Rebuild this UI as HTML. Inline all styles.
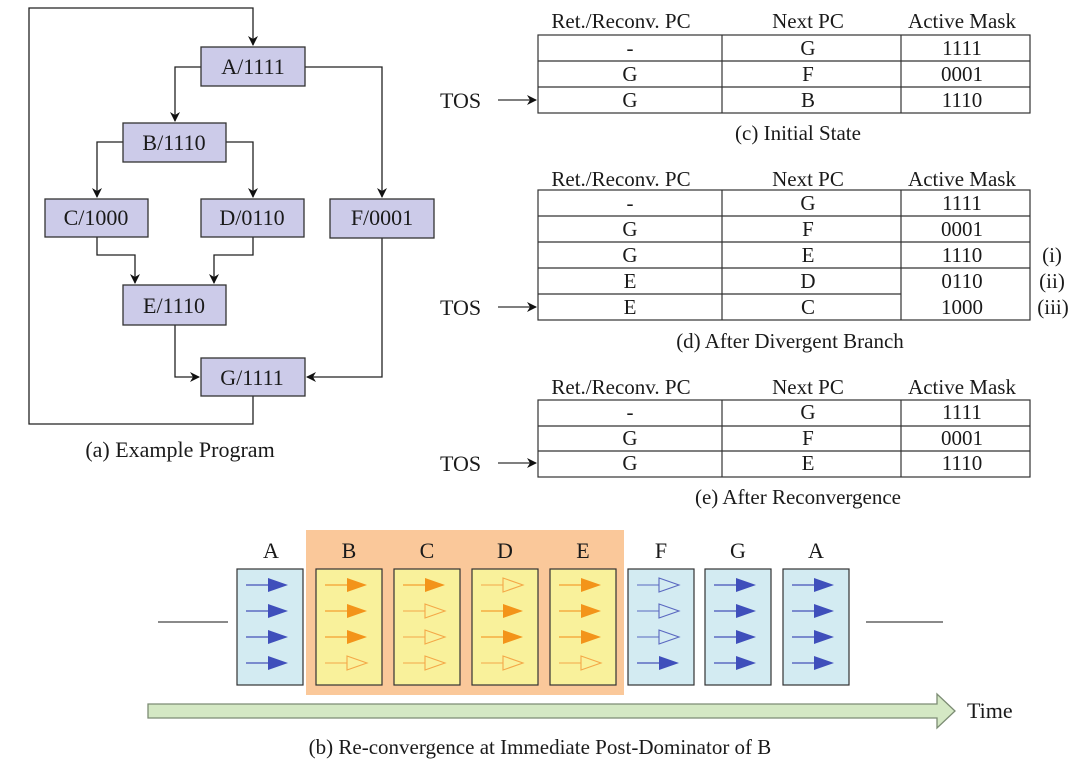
<!DOCTYPE html>
<html><head><meta charset="utf-8"><style>
html,body{margin:0;padding:0;background:#fff;}
svg{display:block;}
text{font-family:"Liberation Serif",serif;fill:#1a1a1a;}
</style></head><body>
<svg width="1080" height="766" viewBox="0 0 1080 766" xmlns="http://www.w3.org/2000/svg">
<defs>
<marker id="ah" markerWidth="10" markerHeight="10" refX="9" refY="5" orient="auto" markerUnits="userSpaceOnUse"><path d="M0,0 L10,5 L0,10 L3,5 Z" fill="#111"/></marker>
<g id="bf"><line x1="16" y1="0" x2="40" y2="0" stroke="#4452b8" stroke-width="1.3"/><polygon points="38,-7 58,0 38,7" fill="#3f4fbb"/></g>
<g id="bh"><line x1="16" y1="0" x2="38" y2="0" stroke="#5a68c0" stroke-width="1.1"/><polygon points="38,-7 58,0 38,7" fill="none" stroke="#5a68c0" stroke-width="1.1"/></g>
<g id="of"><line x1="16" y1="0" x2="40" y2="0" stroke="#f4a030" stroke-width="1.3"/><polygon points="38,-7 58,0 38,7" fill="#f3941a"/></g>
<g id="oh"><line x1="16" y1="0" x2="38" y2="0" stroke="#f4a848" stroke-width="1.1"/><polygon points="38,-7 58,0 38,7" fill="none" stroke="#f4a848" stroke-width="1.1"/></g>
</defs>

<!-- (a) flow graph -->
<g stroke="#222" stroke-width="1.3" fill="none">
<polyline points="253,396 253,424 29,424 29,8 253,8 253,45" marker-end="url(#ah)"/>
<polyline points="201,67 175,67 175,121" marker-end="url(#ah)"/>
<polyline points="305,67 382,67 382,197" marker-end="url(#ah)"/>
<polyline points="123,142 97,142 97,197" marker-end="url(#ah)"/>
<polyline points="226,142 253,142 253,197" marker-end="url(#ah)"/>
<polyline points="97,237 97,255 135,255 135,283" marker-end="url(#ah)"/>
<polyline points="253,237 253,255 214,255 214,283" marker-end="url(#ah)"/>
<polyline points="175,325 175,377 199,377" marker-end="url(#ah)"/>
<polyline points="382,238 382,377 307,377" marker-end="url(#ah)"/>
</g>
<g fill="#cccbe9" stroke="#333" stroke-width="1.3">
<rect x="201" y="47" width="104" height="39"/>
<rect x="123" y="123" width="103" height="39"/>
<rect x="45" y="199" width="103" height="38"/>
<rect x="201" y="199" width="103" height="38"/>
<rect x="330" y="199" width="104" height="39"/>
<rect x="123" y="285" width="103" height="40"/>
<rect x="201" y="358" width="104" height="38"/>
</g>
<g font-size="22" text-anchor="middle">
<text x="253" y="74">A/1111</text>
<text x="174" y="150">B/1110</text>
<text x="96" y="225">C/1000</text>
<text x="252" y="225">D/0110</text>
<text x="382" y="225">F/0001</text>
<text x="174" y="313">E/1110</text>
<text x="252" y="385">G/1111</text>
<text x="180" y="457">(a)  Example Program</text>
</g>

<!-- tables -->
<g font-size="21" text-anchor="middle">
<text x="621" y="28">Ret./Reconv. PC</text><text x="808" y="28">Next PC</text><text x="962" y="28">Active Mask</text>
<text x="621" y="186">Ret./Reconv. PC</text><text x="808" y="186">Next PC</text><text x="962" y="186">Active Mask</text>
<text x="621" y="394">Ret./Reconv. PC</text><text x="808" y="394">Next PC</text><text x="962" y="394">Active Mask</text>
</g>
<g stroke="#333" stroke-width="1.2" fill="none">
<rect x="538" y="35" width="492" height="78"/>
<line x1="538" y1="61" x2="1030" y2="61"/><line x1="538" y1="87" x2="1030" y2="87"/>
<line x1="722" y1="35" x2="722" y2="113"/><line x1="901" y1="35" x2="901" y2="113"/>
<rect x="538" y="190" width="492" height="130"/>
<line x1="538" y1="216" x2="1030" y2="216"/><line x1="538" y1="242" x2="1030" y2="242"/>
<line x1="538" y1="268" x2="1030" y2="268"/><line x1="538" y1="294" x2="901" y2="294"/>
<line x1="722" y1="190" x2="722" y2="320"/><line x1="901" y1="190" x2="901" y2="320"/>
<rect x="538" y="400" width="492" height="77"/>
<line x1="538" y1="426" x2="1030" y2="426"/><line x1="538" y1="451" x2="1030" y2="451"/>
<line x1="722" y1="400" x2="722" y2="477"/><line x1="901" y1="400" x2="901" y2="477"/>
<line x1="498" y1="100" x2="536" y2="100" marker-end="url(#ah)"/>
<line x1="498" y1="307" x2="536" y2="307" marker-end="url(#ah)"/>
<line x1="498" y1="463" x2="536" y2="463" marker-end="url(#ah)"/>
</g>
<g font-size="21" text-anchor="middle">
<text x="630" y="55">-</text><text x="808" y="55">G</text><text x="962" y="55">1111</text>
<text x="630" y="81">G</text><text x="808" y="81">F</text><text x="962" y="81">0001</text>
<text x="630" y="107">G</text><text x="808" y="107">B</text><text x="962" y="107">1110</text>
<text x="798" y="140">(c)  Initial State</text>
<text x="630" y="210">-</text><text x="808" y="210">G</text><text x="962" y="210">1111</text>
<text x="630" y="236">G</text><text x="808" y="236">F</text><text x="962" y="236">0001</text>
<text x="630" y="262">G</text><text x="808" y="262">E</text><text x="962" y="262">1110</text>
<text x="630" y="288">E</text><text x="808" y="288">D</text><text x="962" y="288">0110</text>
<text x="630" y="314">E</text><text x="808" y="314">C</text><text x="962" y="314">1000</text>
<text x="1052" y="262">(i)</text><text x="1052" y="288">(ii)</text><text x="1053" y="314">(iii)</text>
<text x="790" y="348">(d)  After Divergent Branch</text>
<text x="630" y="419">-</text><text x="808" y="419">G</text><text x="962" y="419">1111</text>
<text x="630" y="445">G</text><text x="808" y="445">F</text><text x="962" y="445">0001</text>
<text x="630" y="470">G</text><text x="808" y="470">E</text><text x="962" y="470">1110</text>
<text x="798" y="504">(e)  After Reconvergence</text>
</g>
<g font-size="22">
<text x="440" y="108">TOS</text><text x="440" y="315">TOS</text><text x="440" y="471">TOS</text>
</g>

<!-- (b) timeline -->
<rect x="306" y="530" width="318" height="165" fill="#fac89a"/>
<g font-size="22" text-anchor="middle">
<text x="271" y="558">A</text><text x="349" y="558">B</text><text x="427" y="558">C</text><text x="505" y="558">D</text>
<text x="583" y="558">E</text><text x="661" y="558">F</text><text x="738" y="558">G</text><text x="816" y="558">A</text>
</g>
<g stroke="#333" stroke-width="1.2">
<rect x="237" y="569" width="66" height="116" fill="#d3ebf2"/>
<rect x="316" y="569" width="66" height="116" fill="#f9f19b"/>
<rect x="394" y="569" width="66" height="116" fill="#f9f19b"/>
<rect x="472" y="569" width="66" height="116" fill="#f9f19b"/>
<rect x="550" y="569" width="66" height="116" fill="#f9f19b"/>
<rect x="628" y="569" width="66" height="116" fill="#d3ebf2"/>
<rect x="705" y="569" width="66" height="116" fill="#d3ebf2"/>
<rect x="783" y="569" width="66" height="116" fill="#d3ebf2"/>
<line x1="158" y1="622" x2="228" y2="622" stroke="#444"/>
<line x1="866" y1="622" x2="943" y2="622" stroke="#444"/>
</g>
<!-- A -->
<use href="#bf" x="230" y="585"/><use href="#bf" x="230" y="611"/><use href="#bf" x="230" y="637"/><use href="#bf" x="230" y="663"/>
<!-- B -->
<use href="#of" x="309" y="585"/><use href="#of" x="309" y="611"/><use href="#of" x="309" y="637"/><use href="#oh" x="309" y="663"/>
<!-- C -->
<use href="#of" x="387" y="585"/><use href="#oh" x="387" y="611"/><use href="#oh" x="387" y="637"/><use href="#oh" x="387" y="663"/>
<!-- D -->
<use href="#oh" x="465" y="585"/><use href="#of" x="465" y="611"/><use href="#of" x="465" y="637"/><use href="#oh" x="465" y="663"/>
<!-- E -->
<use href="#of" x="543" y="585"/><use href="#of" x="543" y="611"/><use href="#of" x="543" y="637"/><use href="#oh" x="543" y="663"/>
<!-- F -->
<use href="#bh" x="621" y="585"/><use href="#bh" x="621" y="611"/><use href="#bh" x="621" y="637"/><use href="#bf" x="621" y="663"/>
<!-- G -->
<use href="#bf" x="698" y="585"/><use href="#bf" x="698" y="611"/><use href="#bf" x="698" y="637"/><use href="#bf" x="698" y="663"/>
<!-- A -->
<use href="#bf" x="776" y="585"/><use href="#bf" x="776" y="611"/><use href="#bf" x="776" y="637"/><use href="#bf" x="776" y="663"/>

<polygon points="148,704 937,704 937,694 955,711 937,728 937,718 148,718" fill="#d4e8c4" stroke="#7c8c74" stroke-width="1.3"/>
<text x="967" y="718" font-size="22">Time</text>
<text x="540" y="754" font-size="21" text-anchor="middle">(b)  Re-convergence at Immediate Post-Dominator of B</text>
</svg>
</body></html>
